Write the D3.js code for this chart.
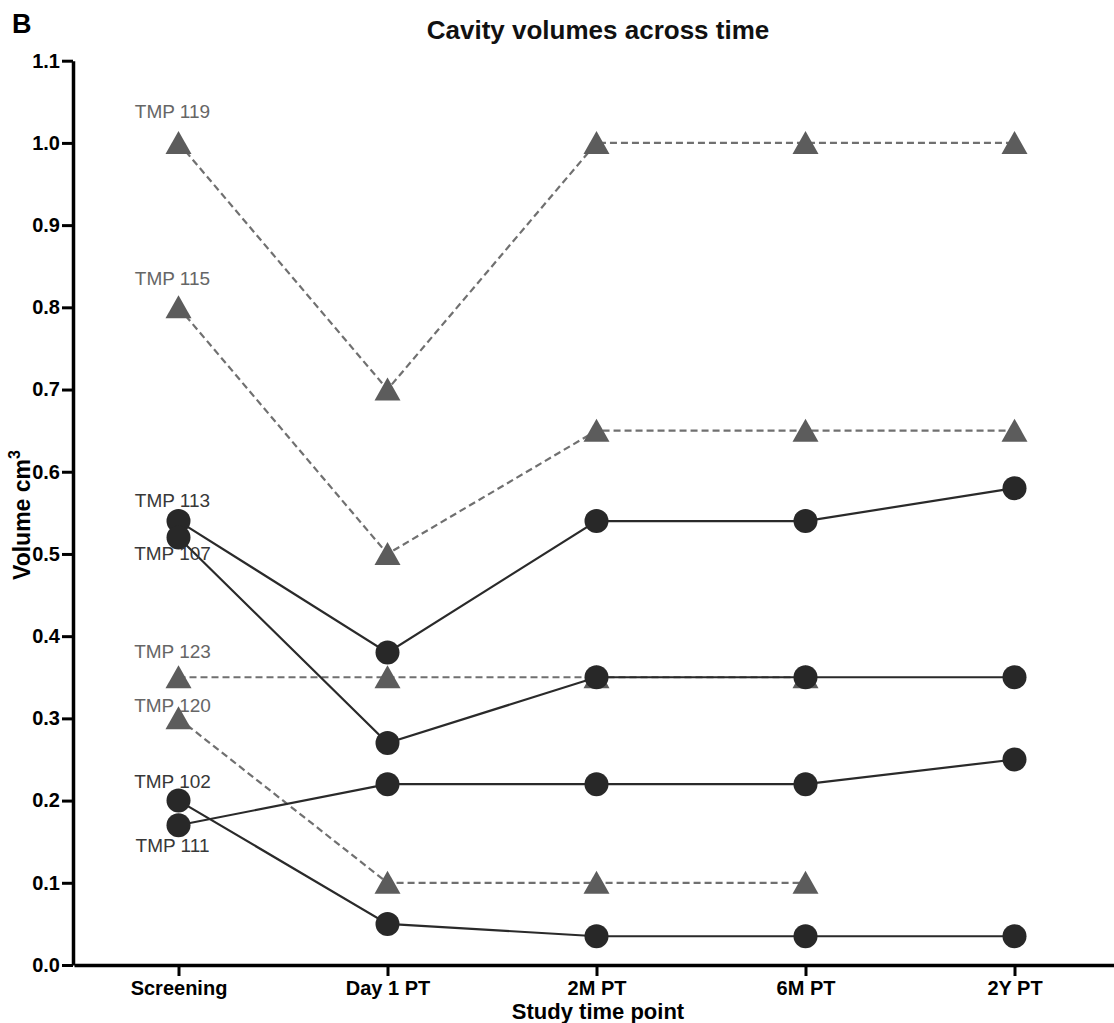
<!DOCTYPE html>
<html>
<head>
<meta charset="utf-8">
<title>Cavity volumes across time</title>
<script src="https://d3js.org/d3.v7.min.js"></script>
<style>
  body { margin: 0; background: #fff; }
  svg { display: block; font-family: "Liberation Sans", Arial, Helvetica, sans-serif; }
</style>
</head>
<body>
<div id="chart"></div>
<script>
// time points on the x axis
var timePoints = ["Screening", "Day 1 PT", "2M PT", "6M PT", "2Y PT"]
var yTicks = [0, 0.1, 0.2, 0.3, 0.4, 0.5, 0.6, 0.7, 0.8, 0.9, 1.0, 1.1]

// triangle patients (dashed lines)
var triNames = ["TMP 119", "TMP 115", "TMP 123", "TMP 120"]
var tmp119 = [1.0, 0.7, 1.0, 1.0, 1.0]
var tmp115 = [0.8, 0.5, 0.65, 0.65, 0.65]
var tmp123 = [0.35, 0.35, 0.35, 0.35, null]
var tmp120 = [0.3, 0.1, 0.1, 0.1, null]

// circle patients (solid lines)
var circNames = ["TMP 113", "TMP 107", "TMP 102", "TMP 111"]
var tmp113 = [0.54, 0.38, 0.54, 0.54, 0.58]
var tmp107 = [0.52, 0.27, 0.35, 0.35, 0.35]
var tmp102 = [0.2, 0.05, 0.035, 0.035, 0.035]
var tmp111 = [0.17, 0.22, 0.22, 0.22, 0.25]

// label baseline offset from the first point (px, negative = above)
var triLabelDy = [-25, -22, -19, -6]
var circLabelDy = [-14, 22, -13, 27]

var triSeries = [tmp119, tmp115, tmp123, tmp120]
var circSeries = [tmp113, tmp107, tmp102, tmp111]

var width = 1114, height = 1023

var svg = d3.select("#chart").append("svg")
  .attr("width", width)
  .attr("height", height)

var x = d3.scalePoint()
  .domain(timePoints)
  .range([74, 1119])
  .padding(0.5)

var y = d3.scaleLinear()
  .domain([0, 1.1])
  .range([965, 60.7])

// panel letter + title
svg.append("text")
  .attr("x", 12).attr("y", 33)
  .attr("font-size", 27).attr("font-weight", "bold")
  .text("B")

svg.append("text")
  .attr("x", 598).attr("y", 39)
  .attr("text-anchor", "middle")
  .attr("font-size", 26).attr("font-weight", "bold")
  .attr("fill", "#111")
  .text("Cavity volumes across time")

// axes
var yAxis = svg.append("g")
  .attr("transform", "translate(73,0)")
  .call(d3.axisLeft(y).tickValues(yTicks).tickFormat(d3.format(".1f")).tickSize(11).tickSizeOuter(0).tickPadding(2))
yAxis.select(".domain").attr("stroke", "#000").attr("stroke-width", 3.5)
yAxis.selectAll(".tick line").attr("stroke", "#000").attr("stroke-width", 3)
yAxis.selectAll(".tick text")
  .attr("font-size", 20).attr("font-weight", "bold").attr("fill", "#000")
  .attr("font-family", "Liberation Sans, Arial, sans-serif")

var xAxis = svg.append("g")
  .attr("transform", "translate(0,965)")
  .call(d3.axisBottom(x).tickSize(11).tickSizeOuter(0))
xAxis.select(".domain").attr("stroke", "#000").attr("stroke-width", 3.5)
xAxis.selectAll(".tick line").attr("stroke", "#000").attr("stroke-width", 3)
xAxis.selectAll(".tick text")
  .attr("y", 30).attr("dy", 0)
  .attr("font-size", 20).attr("font-weight", "bold").attr("fill", "#000")
  .attr("font-family", "Liberation Sans, Arial, sans-serif")

svg.append("text")
  .attr("x", 598).attr("y", 1019)
  .attr("text-anchor", "middle")
  .attr("font-size", 22).attr("font-weight", "bold").attr("fill", "#000")
  .text("Study time point")

var ylab = svg.append("text")
  .attr("transform", "translate(30,515) rotate(-90)")
  .attr("text-anchor", "middle")
  .attr("font-size", 23).attr("font-weight", "bold").attr("fill", "#000")
ylab.append("tspan").text("Volume cm")
ylab.append("tspan").attr("font-size", 16).attr("dy", -10).text("3")

var line = d3.line()
  .defined(function(d) { return d != null })
  .x(function(d, i) { return x(timePoints[i]) })
  .y(function(d) { return y(d) })

// dashed triangle series
triSeries.forEach(function(s) {
  svg.append("path")
    .datum(s)
    .attr("fill", "none")
    .attr("stroke", "#707070")
    .attr("stroke-width", 2.2)
    .attr("stroke-dasharray", "7,4")
    .attr("d", line)
})

var triPath = "M0,-12L13,11L-13,11Z"
triSeries.forEach(function(s) {
  svg.append("g").selectAll("path")
    .data(s.map(function(v, i) { return {v: v, t: timePoints[i]} }).filter(function(d) { return d.v != null }))
    .join("path")
    .attr("d", triPath)
    .attr("transform", function(d) { return "translate(" + x(d.t) + "," + y(d.v) + ")" })
    .attr("fill", "#5c5c5c")
})

// solid circle series
circSeries.forEach(function(s) {
  svg.append("path")
    .datum(s)
    .attr("fill", "none")
    .attr("stroke", "#2a2a2a")
    .attr("stroke-width", 2.2)
    .attr("d", line)
})

circSeries.forEach(function(s) {
  svg.append("g").selectAll("circle")
    .data(s.map(function(v, i) { return {v: v, t: timePoints[i]} }).filter(function(d) { return d.v != null }))
    .join("circle")
    .attr("cx", function(d) { return x(d.t) })
    .attr("cy", function(d) { return y(d.v) })
    .attr("r", 12)
    .attr("fill", "#282828")
})

// patient labels
triSeries.forEach(function(s, i) {
  svg.append("text")
    .attr("x", x(timePoints[0]) - 6)
    .attr("y", y(s[0]) + triLabelDy[i])
    .attr("text-anchor", "middle")
    .attr("font-size", 19).attr("fill", "#666")
    .text(triNames[i])
})
circSeries.forEach(function(s, i) {
  svg.append("text")
    .attr("x", x(timePoints[0]) - 6)
    .attr("y", y(s[0]) + circLabelDy[i])
    .attr("text-anchor", "middle")
    .attr("font-size", 19).attr("fill", "#383838")
    .text(circNames[i])
})
</script>
</body>
</html>
